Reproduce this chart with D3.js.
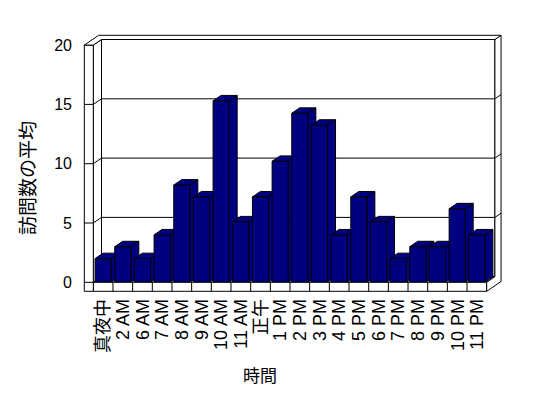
<!DOCTYPE html>
<html>
<head>
<meta charset="utf-8">
<script src="https://cdn.jsdelivr.net/npm/d3@7"></script>
<style>
  body { margin: 0; background: #fff; }
  svg text { font-family: "Liberation Sans", "Noto Sans CJK JP", sans-serif; fill: #000; }
</style>
</head>
<body>
<svg id="chart" width="548" height="398"></svg>
<script>
// hours of the day and average visit counts
const hours = ["真夜中", "2 AM", "6 AM", "7 AM", "8 AM", "9 AM", "10 AM", "11 AM", "正午",
  "1 PM", "2 PM", "3 PM", "4 PM", "5 PM", "6 PM", "7 PM", "8 PM", "9 PM", "10 PM", "11 PM"];
const visits = [2, 3, 2, 4, 8.2, 7.2, 15.3, 5.1, 7.2, 10.2, 14.25, 13.25, 4, 7.2, 5.1, 2, 3, 3, 6.2, 4];
const yTicks = [0, 5, 10, 15, 20];
const yTitle = "訪問数の平均";
const xTitle = "時間";

const svg = d3.select("#chart");
svg.append("rect").attr("width", 548).attr("height", 398).attr("fill", "#fff");

// front plane of the box
const x0 = 93.3, x1 = 486.7;
const xScale = d3.scaleBand().domain(hours).range([x0, x1]).paddingInner(0.18).paddingOuter(0.09);
const step = (x1 - x0) / hours.length;
const yScale = d3.scaleLinear().domain([0, 20]).range([282.3, 45.1]);

// oblique depth: one unit = the inner depth of the plot box
const kx = 8.2, ky = 5.6;
const P = (X, Y, z) => [X + z * kx, Y - z * ky];
const wallT = 9, floorT = 9, backT = 0.75, barDepth = 0.97;
const y0 = yScale(0), yTop = yScale(20);

const poly = (pts, fill) => svg.append("polygon")
  .attr("points", pts.map(p => p.join(",")).join(" "))
  .attr("fill", fill)
  .attr("stroke", "#000")
  .attr("stroke-width", 1)
  .attr("stroke-linejoin", "miter");
const line = (a, b) => svg.append("line")
  .attr("x1", a[0]).attr("y1", a[1]).attr("x2", b[0]).attr("y2", b[1])
  .attr("stroke", "#000").attr("stroke-width", 1);

// back wall + gridlines
poly([P(x0, y0, 1), P(x1, y0, 1), P(x1, yTop, 1), P(x0, yTop, 1)], "#fff");
// side wall inner face
poly([P(x0, y0, 0), P(x0, y0, 1), P(x0, yTop, 1), P(x0, yTop, 0)], "#fff");
yTicks.filter(v => v > 0 && v < 20).forEach(v => {
  line(P(x0, yScale(v), 1), P(x1, yScale(v), 1));
  line(P(x0, yScale(v), 0), P(x0, yScale(v), 1));
});
// floor top
poly([P(x0, y0, 0), P(x1, y0, 0), P(x1, y0, 1), P(x0, y0, 1)], "#fff");

// bars, left to right so the right neighbour hides the side face
hours.forEach((h, i) => {
  const a = xScale(h), b = a + xScale.bandwidth();
  const yv = yScale(visits[i]);
  poly([P(b, yv, 0), P(b, y0, 0), P(b, y0, barDepth), P(b, yv, barDepth)], "#000080");
  poly([P(a, yv, 0), P(b, yv, 0), P(b, yv, barDepth), P(a, yv, barDepth)], "#000080");
  poly([P(a, yv, 0), P(b, yv, 0), P(b, y0, 0), P(a, y0, 0)], "#000080");
});

// floor front face with category dividers
poly([[x0, y0], [x1, y0], [x1, y0 + floorT], [x0, y0 + floorT]], "#fff");
d3.range(1, hours.length).forEach(i => line([x0 + i * step, y0], [x0 + i * step, y0 + floorT]));

// right end of floor and back wall
poly([P(x1, y0 + floorT, 0), P(x1, y0, 0), P(x1, y0, 1), P(x1, yTop, 1),
  P(x1, yTop, 1 + backT), P(x1, y0 + floorT, 1 + backT)], "#fff");
yTicks.filter(v => v > 0 && v < 20).forEach(v => line(P(x1, yScale(v), 1), P(x1, yScale(v), 1 + backT)));

// side wall front face with tick marks
poly([[x0 - wallT, yTop], [x0, yTop], [x0, y0 + floorT], [x0 - wallT, y0 + floorT]], "#fff");
yTicks.filter(v => v < 20).forEach(v => line([x0 - wallT, yScale(v)], [x0, yScale(v)]));

// top of the walls
poly([P(x0 - wallT, yTop, 0), P(x0, yTop, 0), P(x0, yTop, 1), P(x1, yTop, 1),
  P(x1, yTop, 1 + backT), P(x0 - wallT, yTop, 1 + backT)], "#fff");

// y tick labels
svg.selectAll("text.ytick").data(yTicks).join("text")
  .attr("class", "ytick")
  .attr("x", 72)
  .attr("y", d => yScale(d))
  .attr("dy", "0.35em")
  .attr("text-anchor", "end")
  .attr("font-size", 16)
  .text(d => d);

// x tick labels, rotated
svg.selectAll("text.xtick").data(hours).join("text")
  .attr("class", "xtick")
  .attr("transform", d => `translate(${xScale(d) + xScale.bandwidth() / 2},299) rotate(-90)`)
  .attr("dy", "0.35em")
  .attr("text-anchor", "end")
  .attr("font-size", 18)
  .text(d => d);

// axis titles
svg.append("text")
  .attr("transform", "translate(28,178) rotate(-90)")
  .attr("dy", "0.35em")
  .attr("text-anchor", "middle")
  .attr("font-size", 19)
  .text(yTitle);
svg.append("text")
  .attr("x", 260).attr("y", 376)
  .attr("dy", "0.35em")
  .attr("text-anchor", "middle")
  .attr("font-size", 17)
  .text(xTitle);
</script>
</body>
</html>
